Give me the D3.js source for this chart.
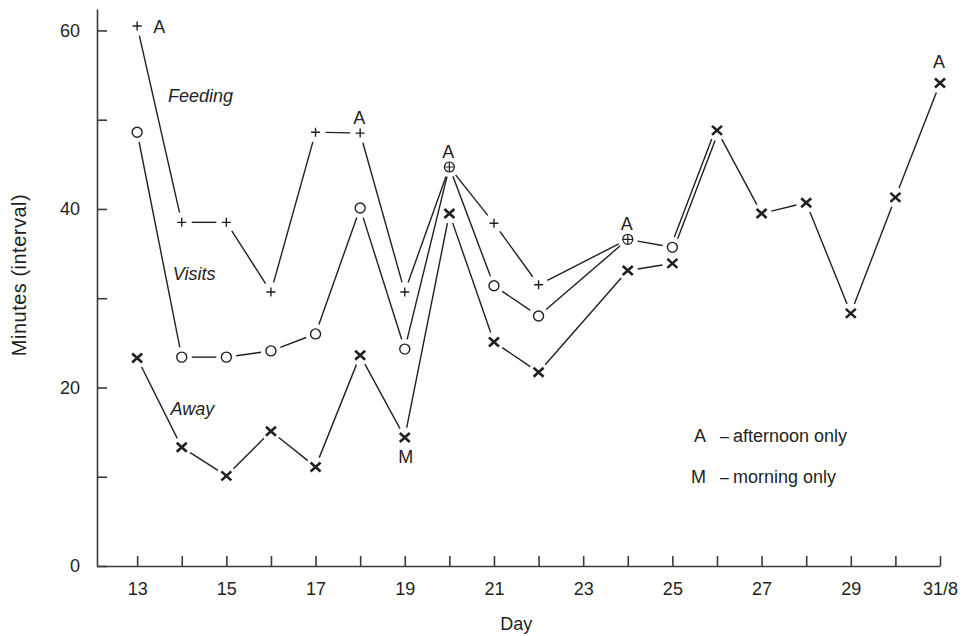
<!DOCTYPE html>
<html>
<head>
<meta charset="utf-8">
<script src="https://cdn.jsdelivr.net/npm/d3@7/dist/d3.min.js"></script>
<style>
  body { margin: 0; background: #fff; }
  svg text { font-family: "Liberation Sans", Arial, sans-serif; fill: #231f20; }
</style>
</head>
<body>
<div id="chart"></div>
<script>
// values (minutes)
const feedingDays = [13, 14, 15, 16, 17, 18, 19, 20, 21, 22, 24];
const feedingValues = [60.5, 38.5, 38.5, 30.7, 48.6, 48.5, 30.7, 44.7, 38.4, 31.5, 36.6];

const visitsDays = [13, 14, 15, 16, 17, 18, 19, 20, 21, 22, 24, 25];
const visitsValues = [48.6, 23.4, 23.4, 24.1, 26.0, 40.1, 24.3, 44.7, 31.4, 28.0, 36.6, 35.7];

const awayDays = [13, 14, 15, 16, 17, 18, 19, 20, 21, 22, 24, 25];
const awayValues = [23.3, 13.3, 10.1, 15.1, 11.1, 23.6, 14.4, 39.5, 25.1, 21.7, 33.1, 33.9];

const lateDays = [26, 27, 28, 29, 30, 31];
const lateValues = [48.8, 39.5, 40.7, 28.3, 41.3, 54.1];

const dayTicks = [13, 14, 15, 16, 17, 18, 19, 20, 21, 22, 23, 24, 25, 26, 27, 28, 29, 30, 31];
const dayLabels = ['13', '', '15', '', '17', '', '19', '', '21', '', '23', '', '25', '', '27', '', '29', '', '31/8'];
const minuteTicks = [0, 10, 20, 30, 40, 50, 60];
const minuteLabels = ['0', '', '20', '', '40', '', '60'];

// A = afternoon only, M = morning only
const notes = [
  { series: 'feeding', day: 13, text: 'A', side: 'right' },
  { series: 'feeding', day: 18, text: 'A', side: 'above' },
  { series: 'feeding', day: 20, text: 'A', side: 'above' },
  { series: 'feeding', day: 24, text: 'A', side: 'above' },
  { series: 'late', day: 31, text: 'A', side: 'above' },
  { series: 'away', day: 19, text: 'M', side: 'below' }
];
const seriesNames = [
  { text: 'Feeding', day: 13.69, value: 52.0 },
  { text: 'Visits', day: 13.8, value: 32.0 },
  { text: 'Away', day: 13.75, value: 16.9 }
];
const legendKeys = ['A', 'M'];
const legendTexts = ['afternoon only', 'morning only'];

const ink = '#231f20';
const fontSize = 18;
const gap = 10;

const svg = d3.select('#chart').append('svg')
  .attr('width', 964)
  .attr('height', 636);

const x = d3.scaleLinear().domain([12.1, 31]).range([97, 940]);
const y = d3.scaleLinear().domain([0, 62.4]).range([566, 9]);

// axes
svg.append('g')
  .attr('transform', 'translate(0,' + y(0) + ')')
  .call(d3.axisBottom(x)
    .tickValues(dayTicks)
    .tickFormat((d, i) => dayLabels[i])
    .tickSizeInner(-10)
    .tickSizeOuter(0)
    .tickPadding(16));

svg.append('g')
  .attr('transform', 'translate(' + x(12.1) + ',0)')
  .call(d3.axisLeft(y)
    .tickValues(minuteTicks)
    .tickFormat((d, i) => minuteLabels[i])
    .tickSizeInner(-10)
    .tickSizeOuter(0)
    .tickPadding(17));

svg.selectAll('.domain, .tick line')
  .attr('stroke', '#3a3a3a')
  .attr('stroke-width', 1.6);
svg.selectAll('.tick text')
  .style('font-size', fontSize + 'px')
  .attr('font-family', null);

svg.append('text')
  .attr('x', x(21.5))
  .attr('y', 630)
  .attr('text-anchor', 'middle')
  .style('font-size', fontSize + 'px')
  .text('Day');

svg.append('text')
  .attr('transform', 'translate(26,275) rotate(-90)')
  .attr('text-anchor', 'middle')
  .style('font-size', '20px')
  .style('letter-spacing', '0.5px')
  .text('Minutes (interval)');

// series
const toPoints = (days, values) => days.map((d, i) => ({ day: d, value: values[i], px: x(d), py: y(values[i]) }));
const series = {
  feeding: toPoints(feedingDays, feedingValues),
  visits: toPoints(visitsDays, visitsValues),
  away: toPoints(awayDays, awayValues),
  late: toPoints(lateDays, lateValues)
};

// segment between two points, trimmed so it stops short of the markers
function trimmed(p, q, offset) {
  const dx = q.px - p.px, dy = q.py - p.py;
  const len = Math.sqrt(dx * dx + dy * dy);
  const ux = dx / len, uy = dy / len;
  const ox = -uy * offset, oy = ux * offset;
  return [[p.px + ux * gap + ox, p.py + uy * gap + oy], [q.px - ux * gap + ox, q.py - uy * gap + oy]];
}

const segments = [];
Object.values(series).forEach(pts => {
  for (let i = 1; i < pts.length; i++) segments.push(trimmed(pts[i - 1], pts[i], 0));
});
// visits at 25 joins the last stretch with a double line
const lastVisit = series.visits[series.visits.length - 1];
segments.push(trimmed(lastVisit, series.late[0], 1.8));
segments.push(trimmed(lastVisit, series.late[0], -1.8));

svg.append('g')
  .selectAll('path')
  .data(segments)
  .join('path')
  .attr('d', d3.line())
  .attr('fill', 'none')
  .attr('stroke', ink)
  .attr('stroke-width', 1.4);

// markers
const shared = new Set(feedingDays.filter((d, i) => {
  const j = visitsDays.indexOf(d);
  return j >= 0 && visitsValues[j] === feedingValues[i];
}));

const marks = svg.append('g');

marks.selectAll('.plus')
  .data(series.feeding.filter(p => !shared.has(p.day)))
  .join('path')
  .attr('class', 'plus')
  .attr('transform', p => 'translate(' + p.px + ',' + p.py + ')')
  .attr('d', 'M-4.5,0H4.5M0,-4.5V4.5')
  .attr('stroke', ink)
  .attr('stroke-width', 1.4);

marks.selectAll('.ring')
  .data(series.visits.filter(p => !shared.has(p.day)))
  .join('circle')
  .attr('class', 'ring')
  .attr('cx', p => p.px)
  .attr('cy', p => p.py)
  .attr('r', 5)
  .attr('fill', '#fff')
  .attr('stroke', ink)
  .attr('stroke-width', 1.4);

const both = marks.selectAll('.both')
  .data(series.feeding.filter(p => shared.has(p.day)))
  .join('g')
  .attr('class', 'both')
  .attr('transform', p => 'translate(' + p.px + ',' + p.py + ')');
both.append('circle')
  .attr('r', 5)
  .attr('fill', '#fff')
  .attr('stroke', ink)
  .attr('stroke-width', 1.2);
both.append('path')
  .attr('d', 'M-5,0H5M0,-5V5')
  .attr('stroke', ink)
  .attr('stroke-width', 1.2);

marks.selectAll('.cross')
  .data(series.away.concat(series.late))
  .join('path')
  .attr('class', 'cross')
  .attr('transform', p => 'translate(' + p.px + ',' + p.py + ')')
  .attr('d', 'M-5,-4.5L5,4.5M-5,4.5L5,-4.5')
  .attr('stroke', ink)
  .attr('stroke-width', 2.6);

// A / M notes
svg.append('g')
  .selectAll('text')
  .data(notes)
  .join('text')
  .each(function (n) {
    const p = series[n.series].find(s => s.day === n.day);
    const big = n.series === 'away' || n.series === 'late';
    const t = d3.select(this).style('font-size', fontSize + 'px').text(n.text);
    if (n.side === 'right') {
      t.attr('x', p.px + 16).attr('y', p.py + 7).attr('text-anchor', 'start');
    } else if (n.side === 'above') {
      t.attr('x', p.px - 1).attr('y', p.py - (big ? 15 : 9)).attr('text-anchor', 'middle');
    } else {
      t.attr('x', p.px + 1).attr('y', p.py + 26).attr('text-anchor', 'middle');
    }
  });

// series names
svg.append('g')
  .selectAll('text')
  .data(seriesNames)
  .join('text')
  .attr('x', d => x(d.day))
  .attr('y', d => y(d.value))
  .style('font-size', fontSize + 'px')
  .style('font-style', 'italic')
  .text(d => d.text);

// key
const key = svg.append('g');
legendKeys.forEach((k, i) => {
  const row = key.append('g').attr('transform', 'translate(0,' + (442 + i * 41) + ')');
  row.append('text').attr('x', 706).attr('text-anchor', 'end').style('font-size', fontSize + 'px').text(k);
  row.append('text').attr('x', 720).attr('y', -0.5).style('font-size', '16px').text('\u2013');
  row.append('text').attr('x', 733).style('font-size', fontSize + 'px').text(legendTexts[i]);
});
</script>
</body>
</html>
